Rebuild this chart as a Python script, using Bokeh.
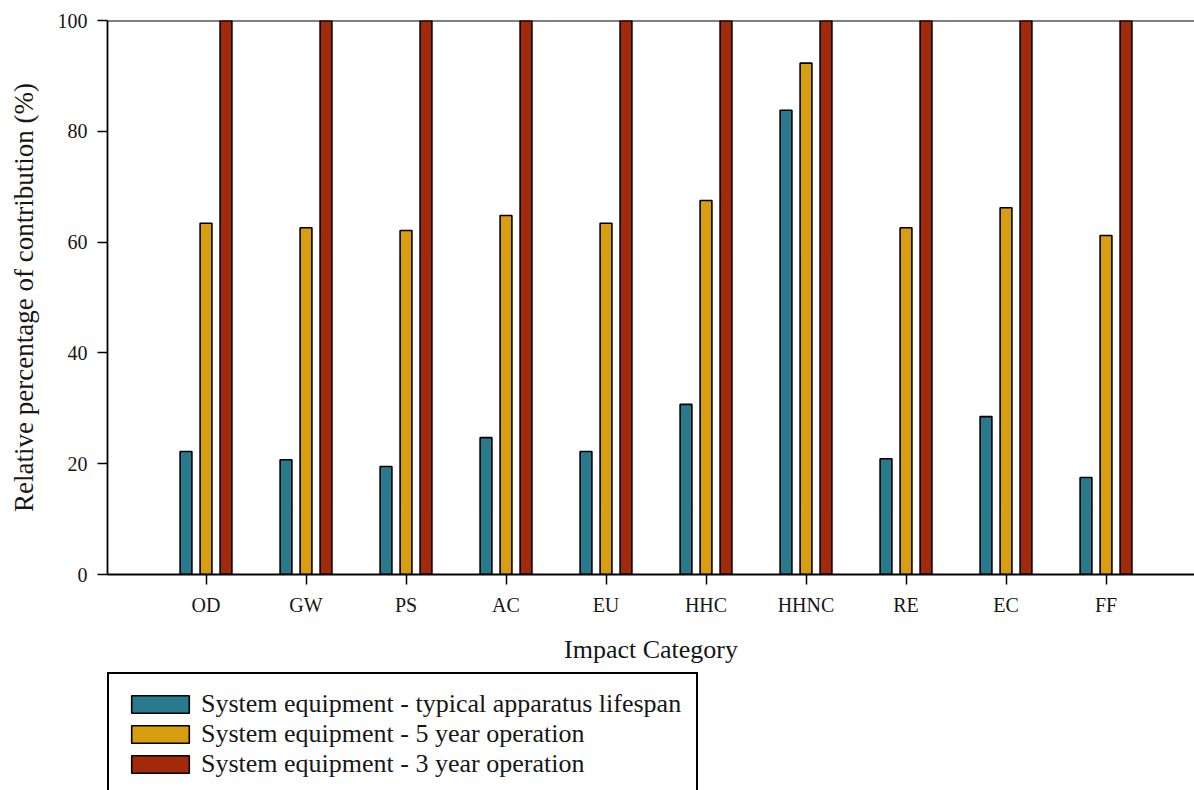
from bokeh.plotting import figure
from bokeh.layouts import column
from bokeh.models import (ColumnDataSource, Range1d, FixedTicker, Span, Legend, LegendItem,
                          CDSView, IndexFilter)
from bokeh.transform import dodge
from bokeh.embed import file_html
from bokeh.resources import INLINE

# Impact categories and relative contributions (%)
categories = ["OD", "GW", "PS", "AC", "EU", "HHC", "HHNC", "RE", "EC", "FF"]
typical_lifespan = [22.2, 20.7, 19.5, 24.7, 22.2, 30.7, 83.8, 20.9, 28.5, 17.5]
five_year = [63.4, 62.6, 62.1, 64.8, 63.4, 67.5, 92.3, 62.6, 66.2, 61.2]
three_year = [100, 100, 100, 100, 100, 100, 100, 100, 100, 100]
y_ticks = [0, 20, 40, 60, 80, 100]

series_labels = [
    "System equipment - typical apparatus lifespan",
    "System equipment - 5 year operation",
    "System equipment - 3 year operation",
]
colors = ["#2a7a8e", "#d89e10", "#a2290a"]
fields = ["lifespan", "five", "three"]

FONT = "Liberation Serif"
TEXT = "#161616"

pos = list(range(len(categories)))
source = ColumnDataSource(dict(
    pos=pos,
    cat=categories,
    lifespan=typical_lifespan,
    five=five_year,
    three=three_year,
))

p = figure(
    width=1194, height=666,
    x_range=Range1d(-0.985, 9.885),
    y_range=Range1d(0, 100),
    output_backend="svg",
    toolbar_location=None,
    min_border_left=107, min_border_right=0,
    min_border_top=20, min_border_bottom=92,
)
p.outline_line_color = None
p.grid.visible = False
p.background_fill_color = "white"
p.border_fill_color = "white"

bar_w = 0.118
for field, offset, color in zip(fields, [-0.2, 0.0, 0.2], colors):
    p.vbar(
        x=dodge("pos", offset, range=p.x_range), top=field, width=bar_w, bottom=0,
        source=source, fill_color=color, line_color="black", line_width=1.6,
    )

# top frame edge
p.add_layout(Span(location=100, dimension="width", line_color="black", line_width=1.8))

# x axis
xa = p.xaxis[0]
xa.ticker = FixedTicker(ticks=pos)
xa.major_label_overrides = {i: c for i, c in zip(pos, categories)}
xa.minor_tick_line_color = None
xa.major_tick_in = 0
xa.major_tick_out = 10
xa.axis_line_width = 1.8
xa.major_tick_line_width = 1.5
xa.major_label_standoff = 9
xa.major_label_text_font = FONT
xa.major_label_text_font_size = "20px"
xa.major_label_text_color = TEXT
xa.axis_label = "Impact Category"
xa.axis_label_text_font = FONT
xa.axis_label_text_font_size = "26px"
xa.axis_label_text_font_style = "normal"
xa.axis_label_text_color = TEXT
xa.axis_label_standoff = 16

# y axis
ya = p.yaxis[0]
ya.ticker = FixedTicker(ticks=y_ticks)
ya.minor_tick_line_color = None
ya.major_tick_in = 0
ya.major_tick_out = 10
ya.axis_line_width = 1.8
ya.major_tick_line_width = 1.5
ya.major_label_standoff = 10
ya.major_label_text_font = FONT
ya.major_label_text_font_size = "20px"
ya.major_label_text_color = TEXT
ya.axis_label = "Relative percentage of contribution (%)"
ya.axis_label_text_font = FONT
ya.axis_label_text_font_size = "27px"
ya.axis_label_text_font_style = "normal"
ya.axis_label_text_color = TEXT
ya.axis_label_standoff = 16

# legend panel beneath the chart; its y range sits above the data so only the key shows
lg = figure(
    width=1194, height=124,
    x_range=Range1d(-0.985, 9.885), y_range=Range1d(150, 151),
    x_axis_location=None, y_axis_location=None,
    output_backend="svg",
    toolbar_location=None,
    min_border_left=107, min_border_right=0,
    min_border_top=0, min_border_bottom=0,
)
lg.grid.visible = False
lg.outline_line_color = None
lg.background_fill_color = "white"
lg.border_fill_color = "white"

first_row = CDSView(filter=IndexFilter(indices=[0]))
swatches = [
    lg.vbar(x="pos", top=f, bottom=0, width=bar_w, source=source, view=first_row,
            fill_color=c, line_color="black", line_width=1.6)
    for f, c in zip(fields, colors)
]
legend = Legend(
    items=[LegendItem(label=lab, renderers=[r]) for lab, r in zip(series_labels, swatches)],
    location=(0, -6),
    orientation="vertical",
    glyph_width=72, glyph_height=22,
    label_height=30, label_standoff=5,
    spacing=0, padding=15, margin=0,
    label_text_font=FONT, label_text_font_size="26px", label_text_color=TEXT,
    border_line_color="black", border_line_width=2, border_line_alpha=1.0,
    background_fill_color="white", background_fill_alpha=1.0,
)
lg.add_layout(legend, "center")

layout = column(p, lg, spacing=0)
open("out.html", "w").write(file_html(layout, INLINE))
